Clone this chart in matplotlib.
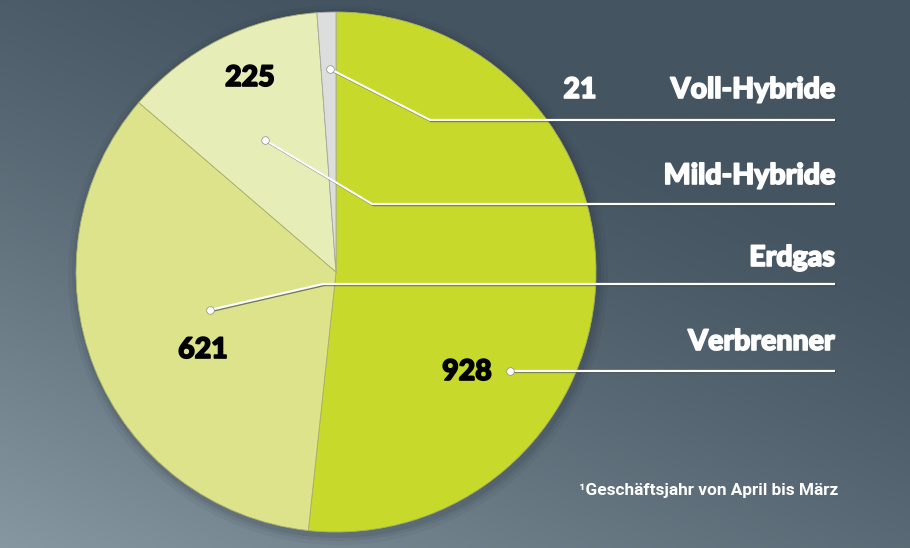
import numpy as np
import matplotlib.pyplot as plt
import matplotlib.patheffects as pe

# data, clockwise from 12 o'clock
values = [928, 621, 225, 21]
names = ['Verbrenner', 'Erdgas', 'Mild-Hybride', 'Voll-Hybride']
colors = ['#c7d92b', '#dce38a', '#e7edb6', '#dcdddd']
footnote = '¹Geschäftsjahr von April bis März'

W, H = 910, 548
fig = plt.figure(figsize=(W / 100, H / 100), dpi=100)
ax = fig.add_axes([0, 0, 1, 1])

# background gradient: lighter bottom-left, darker top-right
yy, xx = np.mgrid[0:1:200j, 0:1:300j]
t = np.clip(0.55 * (1 - xx) + 0.75 * (1 - yy) - 0.35, 0, 1) ** 1.3
dark = np.array([0x44, 0x54, 0x60]) / 255
light = np.array([0x8b, 0x9c, 0xa7]) / 255
bg = dark + (light - dark) * t[..., None]
ax.imshow(bg, extent=[0, W, H, 0], aspect='auto', zorder=0)


def py(y):
    return H - y


cx, cy, r = 336, 272, 260
# soft shadow around the pie
for k, a in [(10, 0.05), (6, 0.07), (3, 0.1)]:
    ax.add_patch(plt.Circle((cx + 2, py(cy) - 3), r + k, color='#1c262e', alpha=a, lw=0, zorder=1))

wedges, _ = ax.pie(values, colors=colors, startangle=90, counterclock=False,
                   center=(cx, py(cy)), radius=r, frame=True,
                   wedgeprops=dict(linewidth=0.6, edgecolor='#a9b16a'))
for w in wedges:
    w.set_zorder(2)
wedges[3].set_edgecolor('#a8a8a8')

ax.set_xlim(0, W)
ax.set_ylim(0, H)
ax.set_aspect('auto')
ax.axis('off')

# leader lines (pixel coords, y down)
leaders = {
    'Voll-Hybride': [(330, 69), (430, 120), (835, 120)],
    'Mild-Hybride': [(265, 140), (372, 204), (835, 204)],
    'Erdgas': [(210, 310), (323, 284), (835, 284)],
    'Verbrenner': [(510, 371), (835, 371)],
}
shadow = [pe.SimpleLineShadow(offset=(0.8, -0.8), shadow_color='#2a3540', alpha=0.6), pe.Normal()]
for name, pts in leaders.items():
    xs = [p[0] for p in pts]
    ys = [py(p[1]) for p in pts]
    ax.plot(xs, ys, color='white', lw=1.6, zorder=5, solid_capstyle='butt', path_effects=shadow)
    ax.plot(xs[0], ys[0], 'o', color='white', ms=5.5, mec='#8a8a8a', mew=0.5, zorder=6)

heavy_w = [pe.withStroke(linewidth=1.2, foreground='white')]
heavy_k = [pe.withStroke(linewidth=1.2, foreground='black')]

label_y = {'Voll-Hybride': 90, 'Mild-Hybride': 176, 'Erdgas': 258, 'Verbrenner': 342}
for name in names:
    ax.text(835, py(label_y[name]), name, ha='right', va='center', color='white',
            fontsize=20.5, fontweight='black', family='Lato', zorder=7, path_effects=heavy_w)

# values
ax.text(580, py(90), '21', ha='center', va='center', color='white',
        fontsize=20.5, fontweight='black', family='Lato', zorder=7, path_effects=heavy_w)
val_pos = {928: (467, 372), 621: (203, 350), 225: (250, 78)}
for v, (x, y) in val_pos.items():
    ax.text(x, py(y), str(v), ha='center', va='center', color='black',
            fontsize=20.5, fontweight='black', family='Lato', zorder=7, path_effects=heavy_k)

ax.text(838, py(490), footnote, ha='right', va='center', color='white',
        fontsize=12.4, fontweight='bold', family='Roboto', zorder=7)

fig.savefig('out.png', dpi=100)
